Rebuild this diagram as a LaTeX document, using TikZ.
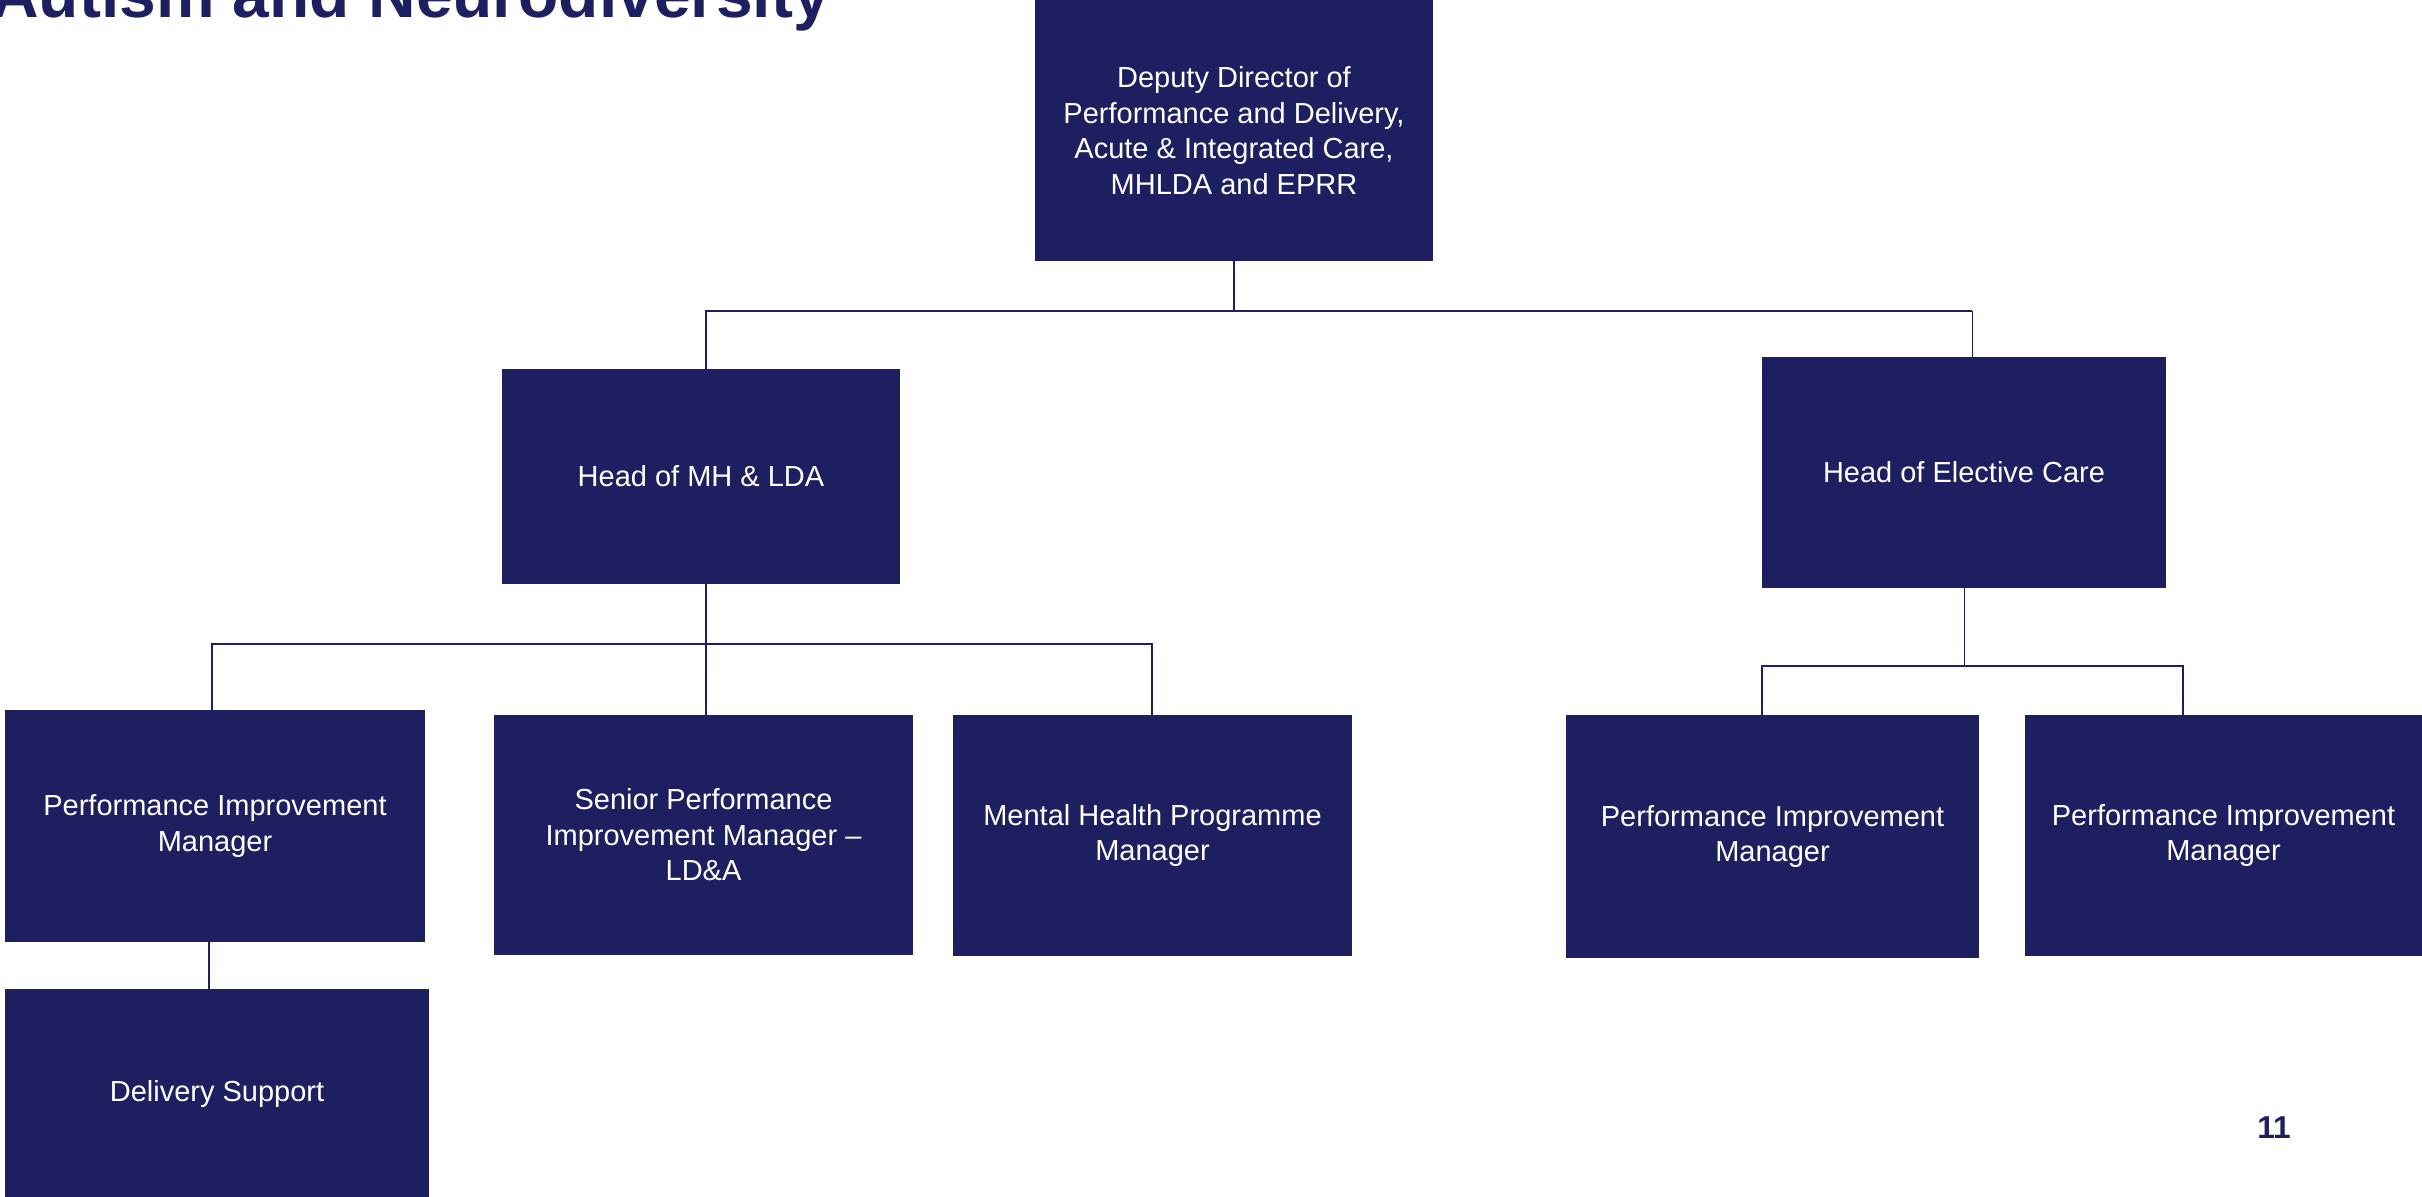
\documentclass[tikz,border=0pt]{standalone}
\usepackage{fontspec}
\setmainfont{Liberation Sans}
\definecolor{navy}{RGB}{30,31,96}
\begin{document}
\begin{tikzpicture}[
  post/.style={fill=navy, text=white, inner sep=0pt, align=center,
    font=\fontsize{16.5}{20.2}\selectfont},
  conn/.style={draw=navy, line width=1.1pt},
  thinconn/.style={draw=navy, line width=0.5pt}]
\useasboundingbox (0,0) rectangle (48.44,-23.92);
% title and page number
\node[anchor=base west, inner sep=0pt, text=navy, font=\fontsize{37.5}{40}\selectfont\bfseries] (title) at (-0.18,-0.34) {Autism and Neurodiversity};
\node[text=navy, inner sep=0pt, font=\fontsize{18}{20}\selectfont\bfseries] (page) at (45.48,-22.56) {11};
% boxes
\node[post, minimum width=7.96cm, minimum height=5.22cm] (dd) at (24.68,-2.61) {Deputy Director of\\Performance and Delivery,\\Acute \& Integrated Care,\\MHLDA and EPRR};
\node[post, minimum width=7.96cm, minimum height=4.30cm] (hmh) at (14.02,-9.53) {Head of MH \& LDA};
\node[post, minimum width=8.08cm, minimum height=4.62cm] (hec) at (39.28,-9.45) {Head of Elective Care};
\node[post, minimum width=8.40cm, minimum height=4.64cm] (pim1) at (4.30,-16.52) {Performance Improvement\\Manager};
\node[post, minimum width=8.38cm, minimum height=4.80cm] (spim) at (14.07,-16.70) {Senior Performance\\Improvement Manager –\\LD\&A};
\node[post, minimum width=7.98cm, minimum height=4.82cm] (mhpm) at (23.05,-16.71) {Mental Health Programme\\Manager};
\node[post, minimum width=8.48cm, minimum height=4.20cm] (ds) at (4.34,-21.88) {Delivery Support};
\node[post, minimum width=8.26cm, minimum height=4.86cm] (pim2) at (35.45,-16.73) {Performance Improvement\\Manager};
\node[post, minimum width=7.94cm, minimum height=4.82cm] (pim3) at (44.47,-16.71) {Performance Improvement\\Manager};
% bars
\coordinate (tL) at (14.12,-6.22);
\coordinate (tR) at (39.44,-6.22);
\coordinate (mL) at (4.24,-12.88);
\coordinate (mR) at (23.04,-12.88);
\coordinate (eL) at (35.24,-13.32);
\coordinate (eR) at (43.66,-13.32);
\draw[conn] (dd.south) -- (dd.south |- tL);
\draw[conn] (tL |- hmh.north) -- (tL) -- (tR);
\draw[thinconn] (tR) -- (tR |- hec.north);
\draw[conn] (hmh.south -| tL) -- (tL |- spim.north);
\draw[conn] (mL |- pim1.north) -- (mL) -- (mR) -- (mR |- mhpm.north);
\draw[conn] (pim1.south -| 4.18,0) -- (4.18,0 |- ds.north);
\draw[thinconn] (hec.south) -- (hec.south |- eL);
\draw[conn] (eL |- pim2.north) -- (eL) -- (eR) -- (eR |- pim3.north);
\end{tikzpicture}
\end{document}
